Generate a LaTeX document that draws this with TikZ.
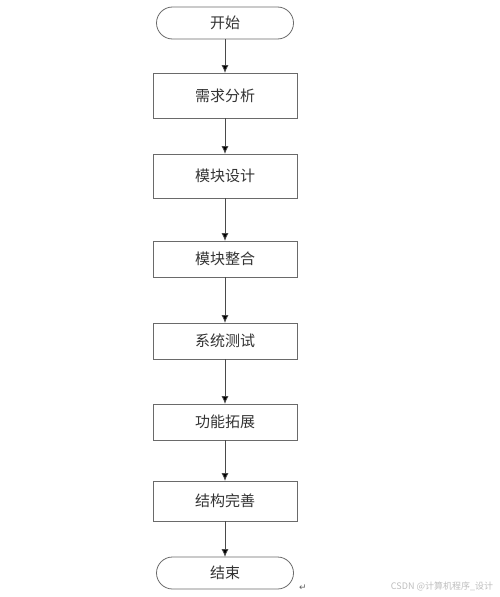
\documentclass[tikz,border=0pt]{standalone}
\usepackage{fontspec}
\setmainfont{Noto Sans CJK SC}
\newfontfamily\symfont{DejaVu Sans}
\usepackage{tikz}
\usetikzlibrary{positioning, shapes.misc, arrows.meta}
\definecolor{linegray}{HTML}{6A6A6A}
\definecolor{arrowgray}{HTML}{4A4A4A}
\definecolor{textgray}{HTML}{333333}
\definecolor{markgray}{HTML}{BDBDBD}
\definecolor{paragray}{HTML}{606060}
\tikzset{terminal/.style = {draw=linegray, rounded rectangle, line width=0.8pt, minimum width=137pt, minimum height=32pt, inner sep=0pt, outer sep=0pt, text=textgray, font=\fontsize{15}{15}\selectfont}}
\tikzset{process/.style = {draw=linegray, rectangle, line width=0.8pt, minimum width=144pt, inner sep=0pt, outer sep=0pt, text=textgray, font=\fontsize{15}{15}\selectfont}}
\tikzset{flow/.style = {->, draw=arrowgray, line width=0.8pt}}

\begin{document}
\begin{tikzpicture}[>={Latex[length=8pt, width=7pt]}, x=1pt, y=1pt]
  \useasboundingbox (0,0) rectangle (499,-597);
  \node [terminal] (start) at (225,-23) {开始};
  \node [process, below=34pt of start, minimum height=45pt] (xqfx) {需求分析};
  \node [process, below=36pt of xqfx, minimum height=44pt] (mksj) {模块设计};
  \node [process, below=43pt of mksj, minimum height=36pt] (mkzh) {模块整合};
  \node [process, below=46pt of mkzh, minimum height=36pt] (xtcs) {系统测试};
  \node [process, below=45pt of xtcs, minimum height=36pt] (gntz) {功能拓展};
  \node [process, below=41pt of gntz, minimum height=40pt] (jgws) {结构完善};
  \node [terminal, below=36pt of jgws] (stop) {结束};

  \path[flow] (start) edge (xqfx);
  \path[flow] (xqfx) edge (mksj);
  \path[flow] (mksj) edge (mkzh);
  \path[flow] (mkzh) edge (xtcs);
  \path[flow] (xtcs) edge (gntz);
  \path[flow] (gntz) edge (jgws);
  \path[flow] (jgws) edge (stop);

  % paragraph mark and watermark
  \node [text=paragray, font=\symfont\fontsize{9}{9}\selectfont, inner sep=0pt] (para) at (303,-588) {↵};
  \node [text=markgray, font=\fontsize{9}{9}\selectfont, inner sep=0pt] (mark) at (442,-586) {CSDN @计算机程序\_设计};
\end{tikzpicture}
\end{document}
